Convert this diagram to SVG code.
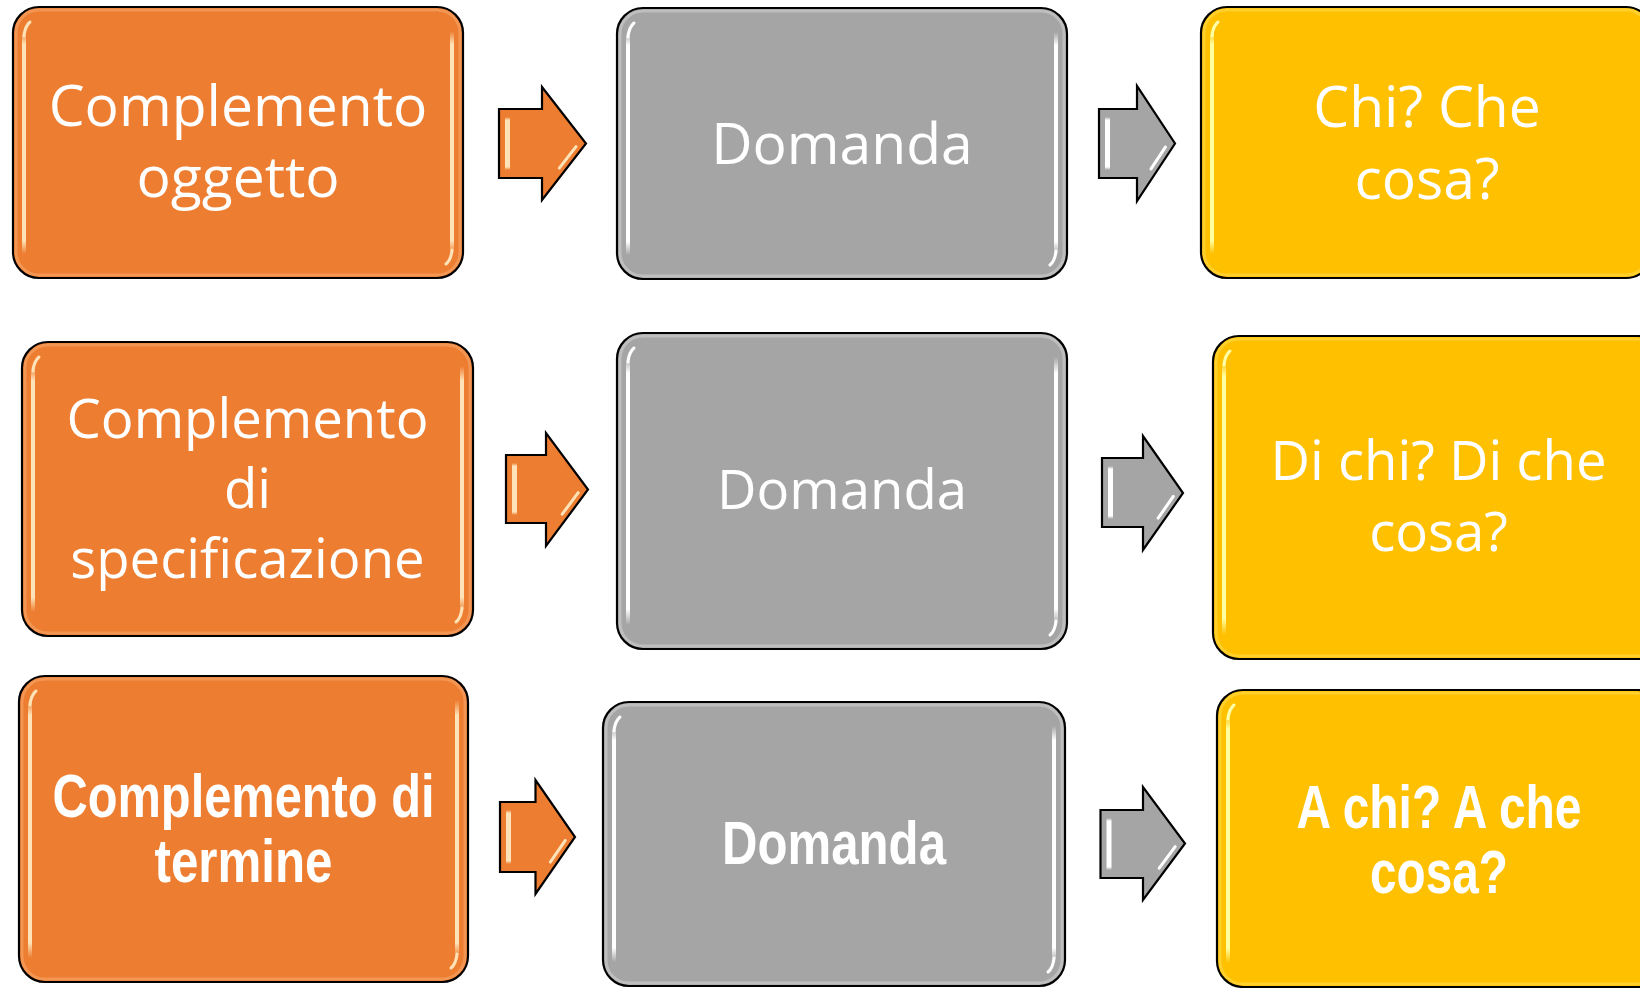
<svg xmlns="http://www.w3.org/2000/svg" width="1640" height="988" viewBox="0 0 1640 988">
<style>
.box{stroke:#000;stroke-width:2.2}
.o{fill:#ED7D31}.g{fill:#A5A5A5}.y{fill:#FFC000}
.arr{stroke:#000;stroke-width:2.2;stroke-linejoin:miter}
.t{font-family:"Open Sans","Noto Sans","Liberation Sans",sans-serif;fill:#fff;text-anchor:middle}
.tb{font-family:"Liberation Sans Narrow","Liberation Sans",sans-serif;font-weight:bold;fill:#fff;text-anchor:middle}
.ho{stroke:#FFE3B8;fill:none;stroke-width:3;stroke-linecap:round}
.hg{stroke:#FFFFFF;fill:none;stroke-width:3;stroke-linecap:round}
.hy{stroke:#FFFFA8;fill:none;stroke-width:3;stroke-linecap:round}
.rimo{fill:none;stroke:#F6A66A;stroke-width:3;opacity:.6}
.rimg{fill:none;stroke:#CFCFCF;stroke-width:3;opacity:.6}
.rimy{fill:none;stroke:#FFD84A;stroke-width:3;opacity:.6}
</style>
<defs>
<linearGradient id="gO" x1="0" y1="0" x2="0" y2="1"><stop offset="0" stop-color="#FFE3B8" stop-opacity="0"/><stop offset="0.06" stop-color="#FFE3B8"/><stop offset="0.94" stop-color="#FFE3B8"/><stop offset="1" stop-color="#FFE3B8" stop-opacity="0"/></linearGradient>
<linearGradient id="gG" x1="0" y1="0" x2="0" y2="1"><stop offset="0" stop-color="#FFFFFF" stop-opacity="0"/><stop offset="0.06" stop-color="#FFFFFF"/><stop offset="0.94" stop-color="#FFFFFF"/><stop offset="1" stop-color="#FFFFFF" stop-opacity="0"/></linearGradient>
<linearGradient id="gY" x1="0" y1="0" x2="0" y2="1"><stop offset="0" stop-color="#FFFFA0" stop-opacity="0"/><stop offset="0.06" stop-color="#FFFFA0"/><stop offset="0.94" stop-color="#FFFFA0"/><stop offset="1" stop-color="#FFFFA0" stop-opacity="0"/></linearGradient>
</defs>
<rect width="1640" height="988" fill="#fff"/>

<g id="connectors">
<g id="arrow1">
<polygon class="arr o" points="499,109 542,109 542,87 586,143.5 542,200 542,178 499,178"/>
<rect x="505" y="117" width="5" height="53" fill="url(#gO)"/>
<line class="ho" x1="576" y1="146.6" x2="559.3" y2="168.1" stroke-width="4"/>
</g>
<g id="arrow2">
<polygon class="arr g" points="1099,109 1137,109 1137,86 1175,143.5 1137,201 1137,178 1099,178"/>
<rect x="1105" y="117" width="5" height="53" fill="url(#gG)"/>
<line class="hg" x1="1165.4" y1="147.1" x2="1151" y2="168.9" stroke-width="4"/>
</g>
<g id="arrow3">
<polygon class="arr o" points="506,455 546,455 546,433 588,489.5 546,546 546,523 506,523"/>
<rect x="512" y="463" width="5" height="52" fill="url(#gO)"/>
<line class="ho" x1="578.2" y1="492.7" x2="562.2" y2="514.2" stroke-width="4"/>
</g>
<g id="arrow4">
<polygon class="arr g" points="1102,458 1143,458 1143,436 1183,493 1143,550 1143,527 1102,527"/>
<rect x="1108" y="466" width="5" height="53" fill="url(#gG)"/>
<line class="hg" x1="1173.3" y1="496.4" x2="1158.1" y2="518.1" stroke-width="4"/>
</g>
<g id="arrow5">
<polygon class="arr o" points="500,802 535.5,802 535.5,780 575,837 535.5,894 535.5,872 500,872"/>
<rect x="506" y="810" width="5" height="54" fill="url(#gO)"/>
<line class="ho" x1="565.3" y1="840.4" x2="550.3" y2="862.1" stroke-width="4"/>
</g>
<g id="arrow6">
<polygon class="arr g" points="1100.5,810 1143,810 1143,787 1185,843.5 1143,900 1143,878 1100.5,878"/>
<rect x="1106.5" y="818" width="5" height="52" fill="url(#gG)"/>
<line class="hg" x1="1175.2" y1="846.7" x2="1159.2" y2="868.2" stroke-width="4"/>
</g>
</g>

<g id="node-a1">
<rect class="box o" x="13" y="7" width="450" height="271" rx="26"/>
<rect class="rimo" x="16" y="10" width="444" height="265" rx="23"/>
<rect x="22" y="31" width="4" height="223" fill="url(#gO)"/>
<rect x="450" y="31" width="4" height="223" fill="url(#gO)"/>
<path class="ho" d="M24 36 Q25 26 30 22"/>
<path class="ho" d="M452 250 Q451 260 446 264"/>
<text class="t" x="238" y="126" font-size="57">Complemento</text>
<text class="t" x="238" y="197" font-size="57">oggetto</text>
</g>

<g id="node-b1">
<rect class="box g" x="617" y="8" width="450" height="271" rx="26"/>
<rect class="rimg" x="620" y="11" width="444" height="265" rx="23"/>
<rect x="626" y="32" width="4" height="223" fill="url(#gG)"/>
<rect x="1054" y="32" width="4" height="223" fill="url(#gG)"/>
<path class="hg" d="M628 37 Q629 27 634 23"/>
<path class="hg" d="M1056 251 Q1055 261 1050 265"/>
<text class="t" x="842" y="163.5" font-size="57">Domanda</text>
</g>

<g id="node-c1">
<rect class="box y" x="1201" y="7" width="451" height="271" rx="26"/>
<rect class="rimy" x="1204" y="10" width="445" height="265" rx="23"/>
<rect x="1210" y="31" width="4" height="223" fill="url(#gY)"/>
<path class="hy" d="M1212 36 Q1213 26 1218 22"/>
<text class="t" x="1427" y="126.5" font-size="57">Chi? Che</text>
<text class="t" x="1427" y="199" font-size="57">cosa?</text>
</g>

<g id="node-a2">
<rect class="box o" x="22" y="342" width="451" height="294" rx="26"/>
<rect class="rimo" x="25" y="345" width="445" height="288" rx="23"/>
<rect x="31" y="366" width="4" height="246" fill="url(#gO)"/>
<rect x="460" y="366" width="4" height="246" fill="url(#gO)"/>
<path class="ho" d="M33 371 Q34 361 39 357"/>
<path class="ho" d="M462 608 Q461 618 456 622"/>
<text class="t" x="247.5" y="438" font-size="54.5">Complemento</text>
<text class="t" x="247.5" y="508" font-size="54.5">di</text>
<text class="t" x="247.5" y="578" font-size="54.5">specificazione</text>
</g>

<g id="node-b2">
<rect class="box g" x="617" y="333" width="450" height="316" rx="26"/>
<rect class="rimg" x="620" y="336" width="444" height="310" rx="23"/>
<rect x="626" y="357" width="4" height="268" fill="url(#gG)"/>
<rect x="1054" y="357" width="4" height="268" fill="url(#gG)"/>
<path class="hg" d="M628 362 Q629 352 634 348"/>
<path class="hg" d="M1056 621 Q1055 631 1050 635"/>
<text class="t" x="842" y="509" font-size="54.5">Domanda</text>
</g>

<g id="node-c2">
<rect class="box y" x="1213" y="336" width="451" height="323" rx="26"/>
<rect class="rimy" x="1216" y="339" width="445" height="317" rx="23"/>
<rect x="1222" y="360" width="4" height="275" fill="url(#gY)"/>
<path class="hy" d="M1224 365 Q1225 355 1230 351"/>
<text class="t" x="1438.5" y="480" font-size="54.5">Di chi? Di che</text>
<text class="t" x="1438.5" y="550.5" font-size="54.5">cosa?</text>
</g>

<g id="node-a3">
<rect class="box o" x="19" y="676" width="449" height="306" rx="26"/>
<rect class="rimo" x="22" y="679" width="443" height="300" rx="23"/>
<rect x="28" y="700" width="4" height="258" fill="url(#gO)"/>
<rect x="455" y="700" width="4" height="258" fill="url(#gO)"/>
<path class="ho" d="M30 705 Q31 695 36 691"/>
<path class="ho" d="M457 954 Q456 964 451 968"/>
<text class="tb" x="243.5" y="817" font-size="61" textLength="382" lengthAdjust="spacingAndGlyphs">Complemento di</text>
<text class="tb" x="243.5" y="882" font-size="61" textLength="178" lengthAdjust="spacingAndGlyphs">termine</text>
</g>

<g id="node-b3">
<rect class="box g" x="603" y="702" width="462" height="284" rx="26"/>
<rect class="rimg" x="606" y="705" width="456" height="278" rx="23"/>
<rect x="612" y="726" width="4" height="236" fill="url(#gG)"/>
<rect x="1052" y="726" width="4" height="236" fill="url(#gG)"/>
<path class="hg" d="M614 731 Q615 721 620 717"/>
<path class="hg" d="M1054 958 Q1053 968 1048 972"/>
<text class="tb" x="834" y="864" font-size="61" textLength="224" lengthAdjust="spacingAndGlyphs">Domanda</text>
</g>

<g id="node-c3">
<rect class="box y" x="1217" y="690" width="446" height="297" rx="26"/>
<rect class="rimy" x="1220" y="693" width="440" height="291" rx="23"/>
<rect x="1226" y="714" width="4" height="249" fill="url(#gY)"/>
<path class="hy" d="M1228 719 Q1229 709 1234 705"/>
<text class="tb" x="1439" y="828" font-size="61" textLength="285" lengthAdjust="spacingAndGlyphs">A chi? A che</text>
<text class="tb" x="1439" y="893" font-size="61" textLength="138" lengthAdjust="spacingAndGlyphs">cosa?</text>
</g>
</svg>
